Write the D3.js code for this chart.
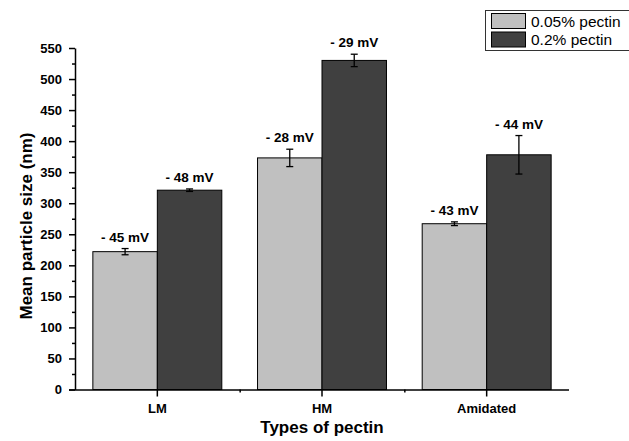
<!DOCTYPE html>
<html lang="en">
<head>
  <meta charset="UTF-8">
  <title>Mean particle size by pectin type</title>
  <script src="https://d3js.org/d3.v7.min.js"></script>
  <style>
    body { margin: 0; background: #fff; }
    svg { font-family: "Liberation Sans", Arial, sans-serif; }
    .axis path, .axis line { stroke: #000; stroke-width: 1.5px; }
    .axis text { font-size: 13px; font-weight: bold; fill: #000; }
    .minor path { display: none; }
    .minor text { display: none; }
    .bar { stroke: #000; stroke-width: 1px; }
    .err { stroke: #000; stroke-width: 1.3px; }
    .zeta { font-size: 13.5px; font-weight: bold; text-anchor: middle; }
    .title { font-size: 17px; font-weight: bold; text-anchor: middle; }
    .legend text { font-size: 15.5px; }
  </style>
</head>
<body>
  <svg width="629" height="441"></svg>
  <script>
    // values
    const categories = ["LM", "HM", "Amidated"];
    const seriesNames = ["0.05% pectin", "0.2% pectin"];
    const low = [222, 373, 267];        // 0.05% pectin
    const high = [321, 530, 378];       // 0.2% pectin
    const lowErr = [5, 14, 3];
    const highErr = [2, 10, 31];
    const lowZeta = ["- 45 mV", "- 28 mV", "- 43 mV"];
    const highZeta = ["- 48 mV", "- 29 mV", "- 44 mV"];
    const yTicks = d3.range(0, 551, 50);

    const colors = ["#c0c0c0", "#404040"];

    const svg = d3.select("svg");
    const mLeft = 75, mRight = 569, mTop = 48, mBottom = 389.5;

    const x = d3.scaleBand().domain(categories).range([mLeft, mRight]).paddingInner(0).paddingOuter(0);
    const xs = d3.scaleBand().domain(seriesNames).range([0, x.bandwidth()]).paddingOuter(0.277);
    const y = d3.scaleLinear().domain([0, 550]).range([mBottom, mTop]);

    const rows = categories.map((c, i) => ({
      cat: c,
      vals: [
        { s: seriesNames[0], v: low[i], e: lowErr[i], z: lowZeta[i], c: colors[0] },
        { s: seriesNames[1], v: high[i], e: highErr[i], z: highZeta[i], c: colors[1] }
      ]
    }));

    const g = svg.append("g").selectAll("g").data(rows).join("g")
      .attr("transform", d => `translate(${x(d.cat)},0)`);

    g.selectAll("rect").data(d => d.vals).join("rect")
      .attr("class", "bar")
      .attr("x", d => xs(d.s))
      .attr("width", xs.bandwidth())
      .attr("y", d => y(d.v))
      .attr("height", d => y(0) - y(d.v))
      .attr("fill", d => d.c);

    const eb = g.selectAll("g.eb").data(d => d.vals).join("g").attr("class", "eb")
      .attr("transform", d => `translate(${xs(d.s) + xs.bandwidth() / 2},0)`);
    eb.append("line").attr("class", "err")
      .attr("y1", d => y(d.v + d.e)).attr("y2", d => y(d.v - d.e));
    eb.append("line").attr("class", "err").attr("x1", -3.5).attr("x2", 3.5)
      .attr("y1", d => y(d.v + d.e)).attr("y2", d => y(d.v + d.e));
    eb.append("line").attr("class", "err").attr("x1", -3.5).attr("x2", 3.5)
      .attr("y1", d => y(d.v - d.e)).attr("y2", d => y(d.v - d.e));
    eb.append("text").attr("class", "zeta")
      .attr("y", d => y(d.v + d.e) - 7)
      .text(d => d.z);

    // y axis, major + minor ticks
    svg.append("g").attr("class", "axis minor")
      .attr("transform", `translate(${mLeft},0)`)
      .call(d3.axisLeft(y).tickValues(d3.range(25, 550, 50)).tickSize(3));
    svg.append("g").attr("class", "axis")
      .attr("transform", `translate(${mLeft},0)`)
      .call(d3.axisLeft(y).tickValues(yTicks).tickSize(6).tickSizeOuter(0).tickPadding(7));

    // x axis
    const xMinor = d3.scaleLinear().domain([0, 3]).range([mLeft, mRight]);
    svg.append("g").attr("class", "axis minor")
      .attr("transform", `translate(0,${mBottom})`)
      .call(d3.axisBottom(xMinor).tickValues([1, 2]).tickSize(3));
    svg.append("g").attr("class", "axis")
      .attr("transform", `translate(0,${mBottom})`)
      .call(d3.axisBottom(x).tickSize(7).tickSizeOuter(0).tickPadding(7))
      .select(".domain").attr("d", `M${mLeft - 6},0.5H${mRight}`);

    svg.append("text").attr("class", "title")
      .attr("x", (mLeft + mRight) / 2).attr("y", 433)
      .text("Types of pectin");
    svg.append("text").attr("class", "title")
      .attr("font-size", "18px")
      .attr("transform", "translate(32,226) rotate(-90)")
      .text("Mean particle size (nm)");

    // legend
    const lg = svg.append("g").attr("class", "legend");
    lg.append("rect").attr("x", 485.5).attr("y", 10.5).attr("width", 160).attr("height", 40)
      .attr("fill", "#fff").attr("stroke", "#333");
    seriesNames.forEach((s, i) => {
      lg.append("rect").attr("x", 491.5).attr("y", 13.5 + i * 18.5).attr("width", 34).attr("height", 15)
        .attr("fill", colors[i]).attr("stroke", "#000");
      lg.append("text").attr("x", 531).attr("y", 27 + i * 17.5).text(s);
    });
  </script>
</body>
</html>
